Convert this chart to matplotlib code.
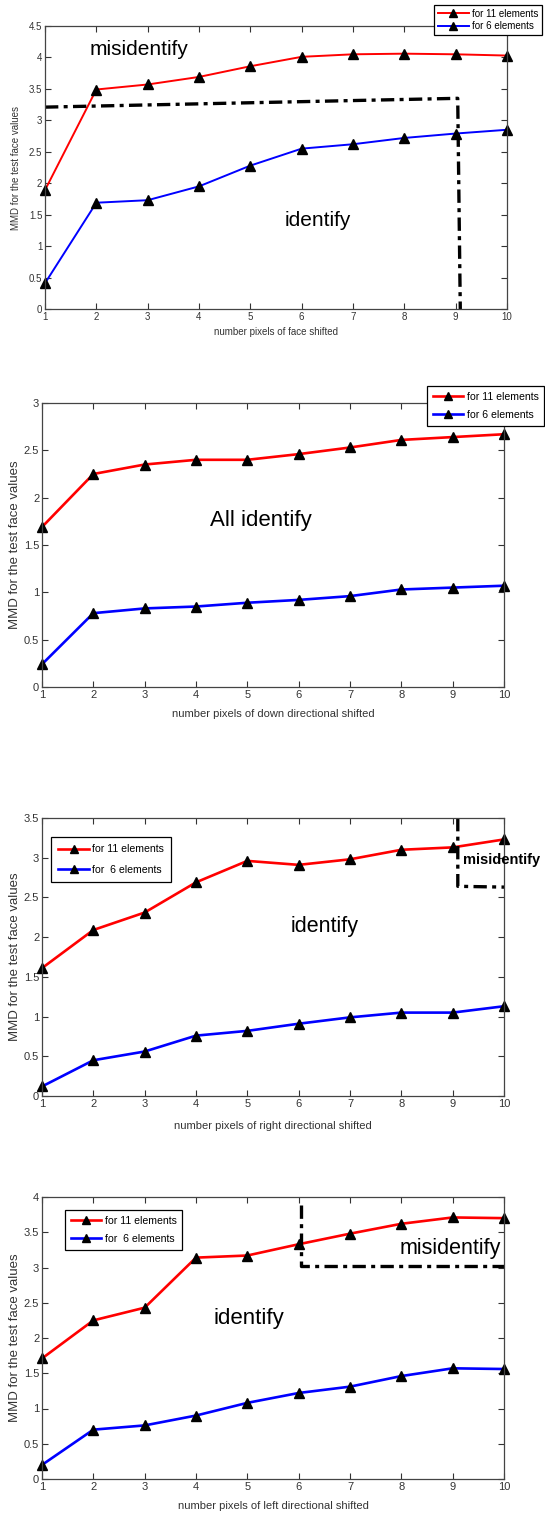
import matplotlib
matplotlib.use("Agg")
import matplotlib.pyplot as plt
from matplotlib.ticker import FormatStrFormatter, MultipleLocator

x = [1, 2, 3, 4, 5, 6, 7, 8, 9, 10]

face_11 = [1.89, 3.49, 3.57, 3.69, 3.86, 4.01, 4.05, 4.06, 4.05, 4.03]
face_6 = [0.41, 1.69, 1.73, 1.95, 2.28, 2.55, 2.62, 2.72, 2.79, 2.85]
down_11 = [1.69, 2.25, 2.35, 2.40, 2.40, 2.46, 2.53, 2.61, 2.64, 2.67]
down_6 = [0.24, 0.78, 0.83, 0.85, 0.89, 0.92, 0.96, 1.03, 1.05, 1.07]
right_11 = [1.61, 2.09, 2.31, 2.69, 2.96, 2.91, 2.98, 3.10, 3.13, 3.23]
right_6 = [0.12, 0.45, 0.56, 0.76, 0.82, 0.91, 0.99, 1.05, 1.05, 1.13]
left_11 = [1.71, 2.25, 2.43, 3.14, 3.17, 3.33, 3.48, 3.62, 3.71, 3.70]
left_6 = [0.20, 0.70, 0.76, 0.90, 1.08, 1.22, 1.31, 1.46, 1.57, 1.56]

# threshold boundary lines
face_bx = [1, 9.04, 9.09]
face_by = [3.21, 3.35, 0.0]
right_bx = [9.10, 9.10, 10.0]
right_by = [3.5, 2.64, 2.63]
left_bx = [6.05, 6.05, 10.0]
left_by = [3.88, 3.02, 3.02]

xlabels = ["number pixels of face shifted",
           "number pixels of down directional shifted",
           "number pixels of right directional shifted",
           "number pixels of left directional shifted"]
ylabel = "MMD for the test face values"
legend_labels_a = ["for 11 elements", "for 6 elements"]
legend_labels_b = ["for 11 elements", "for  6 elements"]
ymaxes = [4.5, 3.0, 3.5, 4.0]

W, H = 545, 1515
fig = plt.figure(figsize=(W / 100, H / 100), dpi=100)

REG = ["Liberation Sans", "DejaVu Sans"]

# axes boxes in pixels: left, top, right, bottom
boxes = [(45, 26, 507, 309), (42, 403, 504, 687), (42, 818, 504, 1096), (42, 1197, 504, 1479)]
series = [(face_11, face_6), (down_11, down_6), (right_11, right_6), (left_11, left_6)]
legend_pos = [(434, 5), (427, 386), (51, 837), (65, 1210)]
leg_spacing = [0.25, 0.75, 1.0, 0.75]
leg_pad = [0.4, 0.55, 0.7, 0.55]
xlab_y = [327, 709, 1121, 1501]

axes = []
for i, (l, t, r, b) in enumerate(boxes):
    ax = fig.add_axes([l / W, 1 - b / H, (r - l) / W, (b - t) / H])
    axes.append(ax)
    s11, s6 = series[i]
    tfs = 7 if i == 0 else 8
    lw = 1.4 if i == 0 else 1.9
    h1, = ax.plot(x, s11, color="#ff0000", lw=lw, marker="^", ms=7,
                  mfc="black", mec="black")
    h2, = ax.plot(x, s6, color="#0000ff", lw=lw, marker="^", ms=7,
                  mfc="black", mec="black")
    for m in (h1, h2):
        m.set_clip_on(False)
    ax.set_xlim(1, 10)
    ax.set_ylim(0, ymaxes[i])
    ax.xaxis.set_major_locator(MultipleLocator(1))
    ax.yaxis.set_major_locator(MultipleLocator(0.5))
    ax.yaxis.set_major_formatter(FormatStrFormatter("%g"))
    ax.tick_params(direction="in", top=True, right=True, length=4,
                   width=0.8, color="#333333", labelsize=tfs, pad=2,
                   labelcolor="#333333")
    for lab in ax.get_xticklabels() + ax.get_yticklabels():
        lab.set_family(REG)
    for sp in ax.spines.values():
        sp.set_color("#444444")
        sp.set_linewidth(0.9)
    ax.set_xlabel(xlabels[i], fontsize=7 if i == 0 else 8, family=REG, color="#333333")
    ax.set_ylabel(ylabel, fontsize=7 if i == 0 else 9.5, family=REG, color="#333333")
    ax.xaxis.set_label_coords(0.5, -(xlab_y[i] - b) / (b - t))
    ax.yaxis.set_label_coords(-(l - 21) / (r - l), 0.5)
    labs = legend_labels_a if i < 2 else legend_labels_b
    lx, ly = legend_pos[i]
    leg = ax.legend([h1, h2], labs, loc="upper left",
                    bbox_to_anchor=(lx / W, 1 - ly / H), bbox_transform=fig.transFigure,
                    borderaxespad=0, fancybox=False, framealpha=1, edgecolor="black",
                    prop={"family": REG, "size": 7 if i == 0 else 7.6},
                    handlelength=3.2 if i == 0 else 2.9, handletextpad=0.3,
                    labelspacing=leg_spacing[i], borderpad=leg_pad[i],
                    markerscale=0.9)
    leg.get_frame().set_linewidth(0.9)
    leg.set_zorder(10)

dd = (0, (4, 1.6, 1.2, 1.6))
axes[0].plot(face_bx, face_by, color="black", lw=2.4, ls=dd, clip_on=False)
axes[2].plot(right_bx, right_by, color="black", lw=2.4, ls=dd, clip_on=False)
axes[3].plot(left_bx, left_by, color="black", lw=2.4, ls=dd, clip_on=False)

axes[0].text(2.83, 4.12, "misidentify", fontsize=15, family=REG, ha="center", va="center")
axes[0].text(6.32, 1.41, "identify", fontsize=15, family=REG, ha="center", va="center")
axes[1].text(5.27, 1.76, "All identify", fontsize=16, family=REG, ha="center", va="center")
axes[2].text(6.5, 2.13, "identify", fontsize=15.5, family=REG, ha="center", va="center")
axes[2].text(9.2, 2.97, "misidentify", fontsize=10.5, family=REG, ha="left", va="center",
             fontweight="bold", clip_on=False)
axes[3].text(8.95, 3.27, "misidentify", fontsize=15.5, family=REG, ha="center", va="center")
axes[3].text(5.03, 2.28, "identify", fontsize=16, family=REG, ha="center", va="center")

fig.savefig("out.png", dpi=100, facecolor="white")
